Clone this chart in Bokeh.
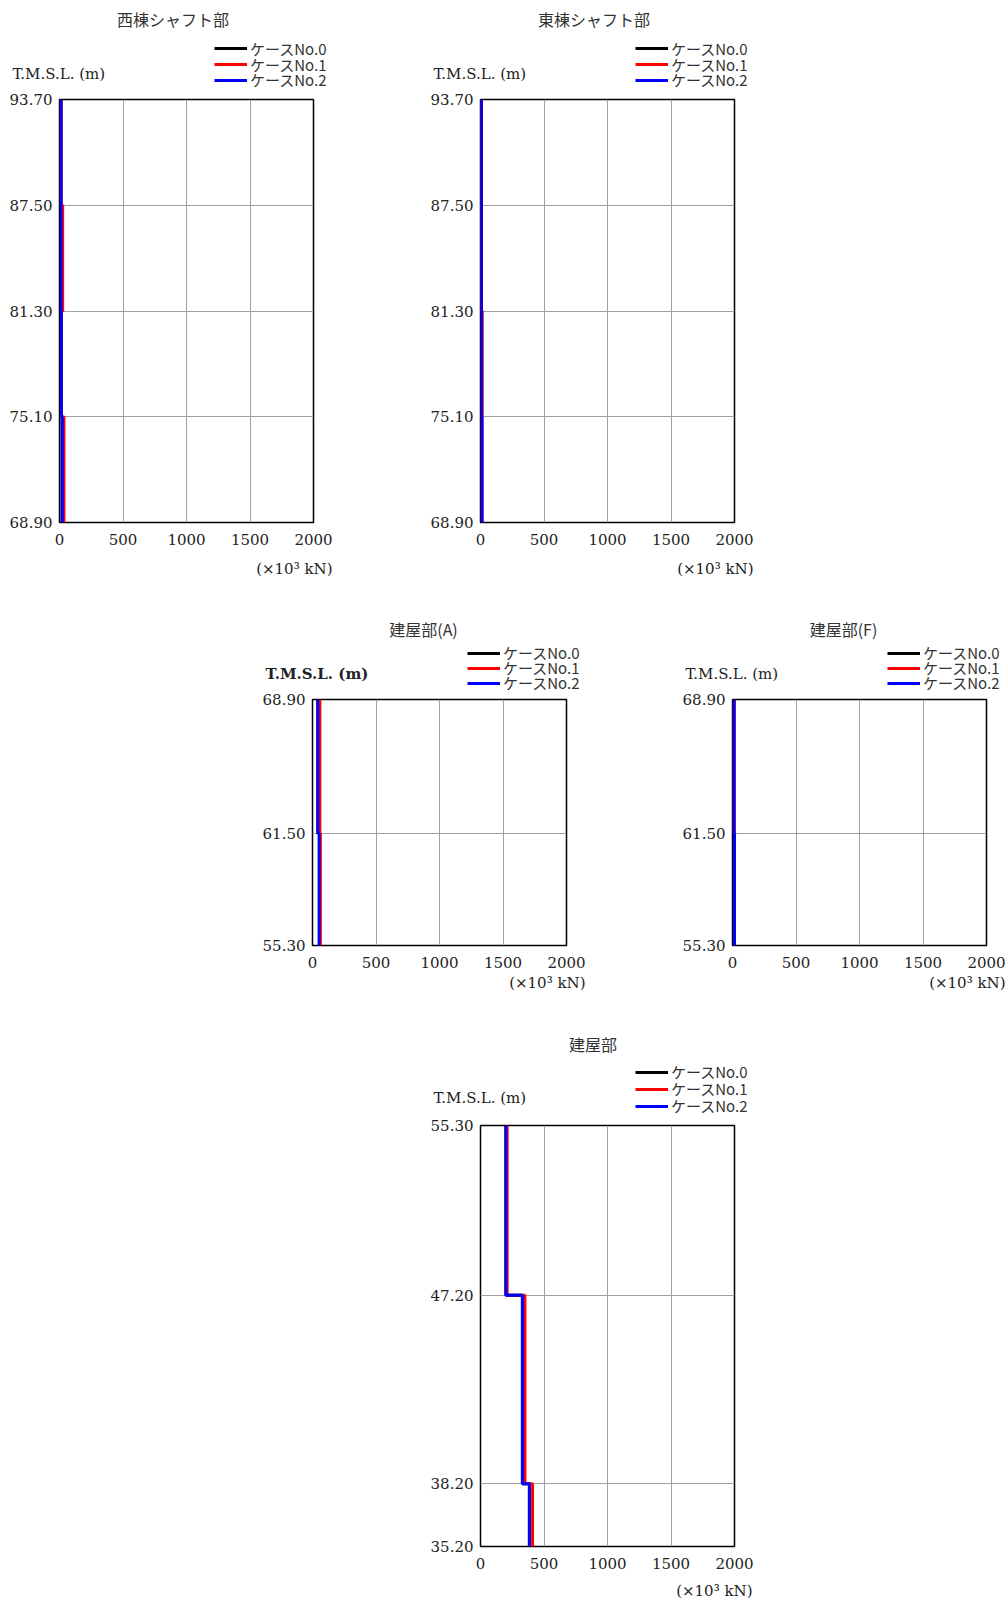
from bokeh.plotting import figure
from bokeh.layouts import column, row
from bokeh.models import Range1d, FixedTicker, Label, Legend, LegendItem, PrintfTickFormatter
from bokeh.embed import file_html
from bokeh.resources import INLINE

# ---------------- data ----------------
west_levels = [93.7, 87.5, 81.3, 75.1, 68.9]
west_case0 = [12, 12, 15, 20]
west_case1 = [12, 25, 15, 35]
west_case2 = [12, 12, 15, 22]

east_levels = [93.7, 87.5, 81.3, 75.1, 68.9]
east_case0 = [8, 8, 8, 6]
east_case1 = [8, 8, 14, 12]
east_case2 = [8, 8, 8, 12]

bldgA_levels = [68.9, 61.5, 55.3]
bldgA_case0 = [42, 55]
bldgA_case1 = [58, 62]
bldgA_case2 = [42, 52]

bldgF_levels = [68.9, 61.5, 55.3]
bldgF_case0 = [12, 16]
bldgF_case1 = [12, 16]
bldgF_case2 = [12, 16]

bldg_levels = [55.3, 47.2, 38.2, 35.2]
bldg_case0 = [200, 330, 385]
bldg_case1 = [210, 350, 410]
bldg_case2 = [200, 330, 385]

x_ticks = [0, 500, 1000, 1500, 2000]
case_names = ["ケースNo.0", "ケースNo.1", "ケースNo.2"]
titles = ["西棟シャフト部", "東棟シャフト部", "建屋部(A)", "建屋部(F)", "建屋部"]
y_title = "T.M.S.L. (m)"
x_unit = "(×10³ kN)"

# ---------------- styles ----------------
case_colors = ["#000000", "#ff0000", "#0000ff"]
JP = "Noto Sans CJK JP"
SERIF = "DejaVu Serif"
TXT = "#333333"
NUM = "#222222"
PAGE_W = 1008
NAN = float("nan")


def profile(levels, vals):
    xs, ys = [], []
    for i, v in enumerate(vals):
        xs += [v, v]
        ys += [levels[i], levels[i + 1]]
    return xs, ys


def chart(levels, cases, w, h, bl, br, bt, bb):
    p = figure(width=w, height=h, min_border_left=bl, min_border_right=br,
               min_border_top=bt, min_border_bottom=bb,
               x_range=Range1d(0, 2000), y_range=Range1d(levels[-1], levels[0]),
               output_backend="svg", toolbar_location=None, tools="")
    p.outline_line_color = "black"
    p.outline_line_width = 1.5
    p.background_fill_color = "white"
    p.border_fill_color = "white"
    p.xaxis.ticker = FixedTicker(ticks=x_ticks)
    p.yaxis.ticker = FixedTicker(ticks=levels)
    p.yaxis.formatter = PrintfTickFormatter(format="%.2f")
    for ax in (p.xaxis[0], p.yaxis[0]):
        ax.axis_line_color = None
        ax.major_tick_line_color = None
        ax.minor_tick_line_color = None
        ax.major_tick_out = 0
        ax.major_tick_in = 0
        ax.minor_tick_out = 0
        ax.major_label_text_font = SERIF
        ax.major_label_text_font_size = "15px"
        ax.major_label_text_color = NUM
    p.xaxis.major_label_standoff = 11
    p.yaxis.major_label_standoff = 7
    p.xgrid.ticker = FixedTicker(ticks=x_ticks)
    p.ygrid.ticker = FixedTicker(ticks=levels)
    p.grid.grid_line_color = "#a0a0a0"
    p.grid.grid_line_width = 1
    for vals, col in zip(cases, case_colors):
        xs, ys = profile(levels, vals)
        p.line(xs, ys, line_color=col, line_width=3)
    return p


def band(height):
    b = figure(width=PAGE_W, height=height, x_range=Range1d(0, PAGE_W),
               y_range=Range1d(height, 0), x_axis_type=None, y_axis_type=None,
               min_border=0, output_backend="svg", toolbar_location=None, tools="")
    b.outline_line_color = None
    b.background_fill_color = "white"
    b.border_fill_color = "white"
    b.grid.visible = False
    return b


def header(b, top, title, title_cx, title_cy, tmsl_x, tmsl_cy, leg_x, leg_cys, bold=False):
    H = b.height
    b.add_layout(Label(x=title_cx, y=title_cy - top, text=title, text_align="center",
                       text_baseline="middle", text_font=JP, text_font_size="16px",
                       text_color=TXT))
    b.add_layout(Label(x=tmsl_x, y=tmsl_cy - top, text=y_title, text_align="left",
                       text_baseline="middle", text_font=SERIF, text_font_size="15px",
                       text_color=NUM, text_font_style="bold" if bold else "normal"))
    GH = 16
    for name, col, cy in zip(case_names, case_colors, leg_cys):
        # legend key only: a line renderer with no drawable points
        r = b.line(x=[NAN, NAN], y=[NAN, NAN], line_color=col, line_width=3)
        lg = Legend(items=[LegendItem(label=name, renderers=[r])],
                    location=(leg_x, H - (cy - top) - GH / 2),
                    padding=0, margin=0, spacing=0,
                    glyph_width=33, glyph_height=GH, label_height=GH,
                    label_standoff=3, border_line_color=None,
                    background_fill_alpha=0,
                    label_text_font=JP, label_text_font_size="15px",
                    label_text_color=TXT)
        b.add_layout(lg)


def unit_label(b, top, right, cy):
    b.add_layout(Label(x=right, y=cy - top, text=x_unit, text_align="right",
                       text_baseline="middle", text_font=SERIF, text_font_size="15px",
                       text_color=NUM))


# band 0: headers of row 1 (y 0-92)
b0 = band(92)
header(b0, 0, titles[0], 172.5, 18, 12, 73, 214, [50.7, 66.7, 82])
header(b0, 0, titles[1], 593.5, 18, 433, 73, 635, [50.7, 66.7, 82])

# row 1 charts (y 92-552), frames 99-522
p1 = chart(west_levels, [west_case0, west_case1, west_case2], 400, 460, 59, 87, 7, 30)
p2 = chart(east_levels, [east_case0, east_case1, east_case2], 608, 460, 80, 274, 7, 30)

# band 1: units of row 1 + headers of row 2 (y 552-692)
b1 = band(140)
unit_label(b1, 552, 332, 568)
unit_label(b1, 552, 753, 568)
header(b1, 552, titles[2], 423, 628, 265, 673, 467, [655, 670, 685], bold=True)
header(b1, 552, titles[3], 843, 628, 685, 673, 887, [655, 670, 685])

# row 2 charts (y 692-974), frames 699-945
p3 = chart(bldgA_levels, [bldgA_case0, bldgA_case1, bldgA_case2], 640, 282, 312, 74, 7, 29)
p4 = chart(bldgF_levels, [bldgF_case0, bldgF_case1, bldgF_case2], 368, 282, 92, 22, 7, 29)

# band 2: units of row 2 + header of row 3 (y 974-1118)
b2 = band(144)
unit_label(b2, 974, 585, 982)
unit_label(b2, 974, 1005, 982)
header(b2, 974, titles[4], 592.5, 1043, 433, 1097, 635, [1074, 1091, 1108])

# row 3 chart (y 1118-1576), frame 1125-1546
p5 = chart(bldg_levels, [bldg_case0, bldg_case1, bldg_case2], PAGE_W, 458, 480, 274, 7, 30)

# band 3: unit of row 3 (y 1576-1601)
b3 = band(25)
unit_label(b3, 1576, 752, 1590)

layout = column(row(b0), row(p1, p2), row(b1), row(p3, p4), row(b2), row(p5), row(b3))
open("out.html", "w").write(file_html(layout, INLINE))
